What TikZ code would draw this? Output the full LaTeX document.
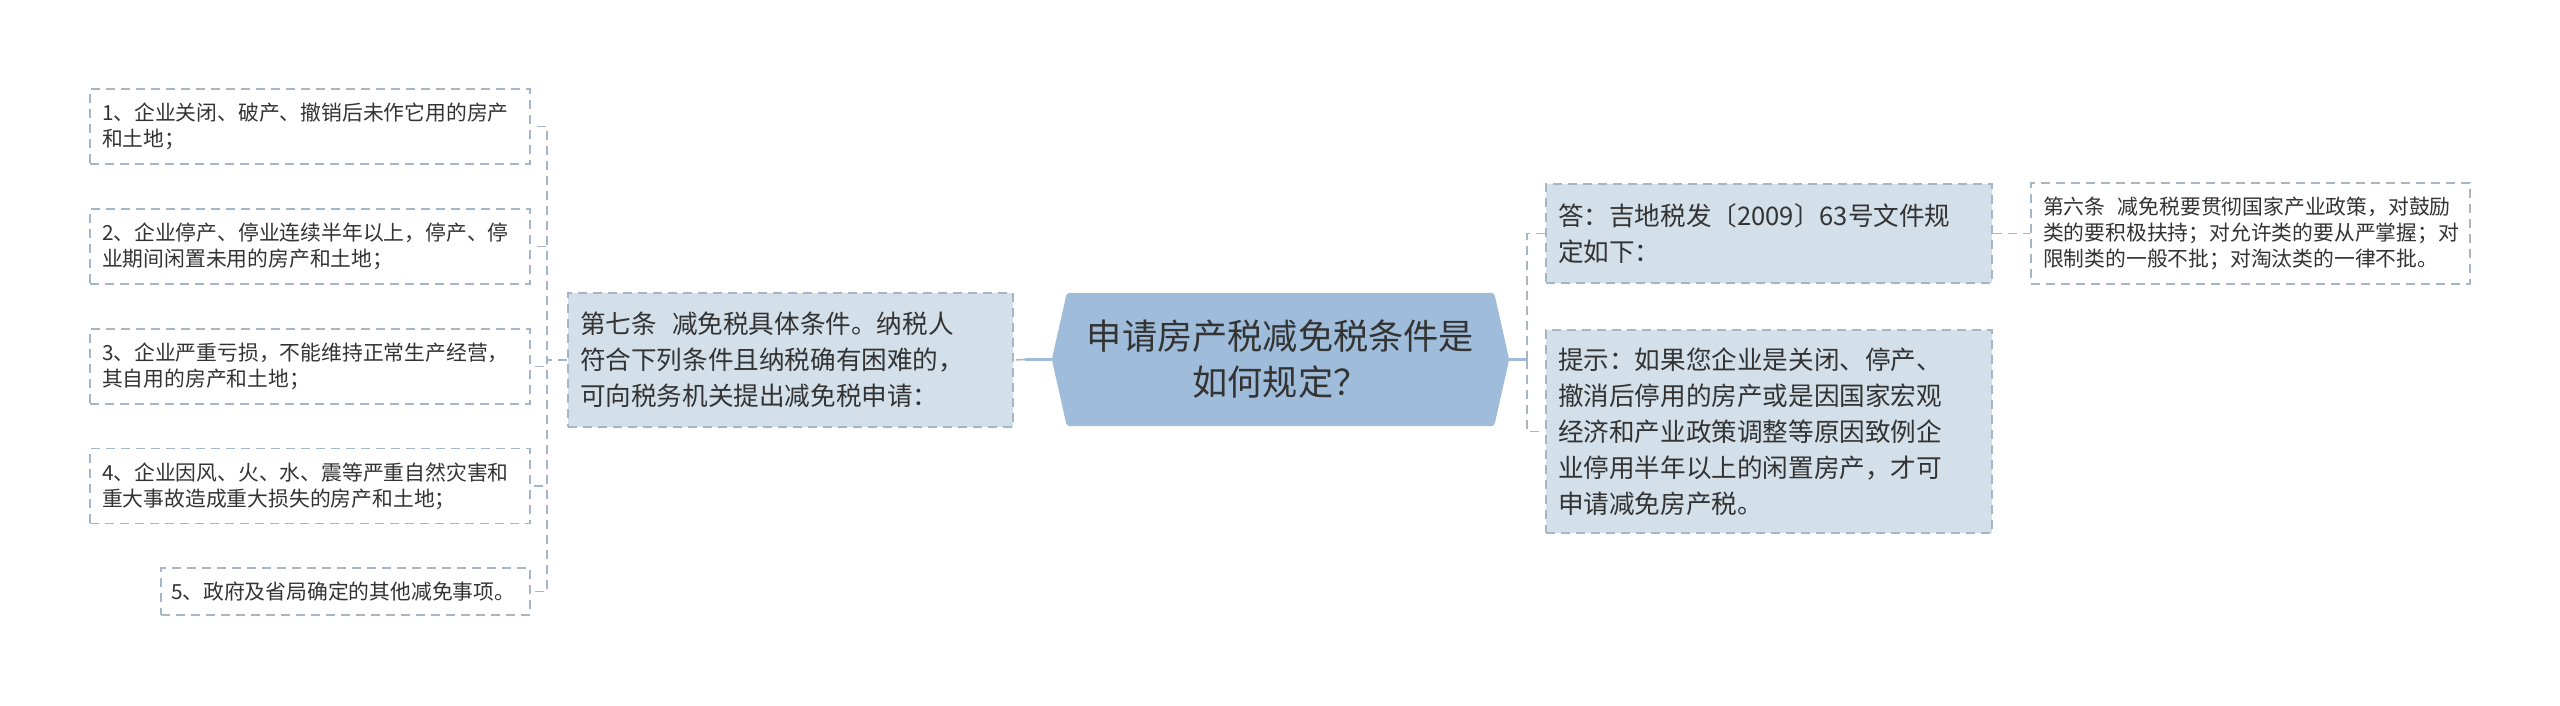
\documentclass[tikz,border=0pt]{standalone}
\usepackage{fontspec}
\setmainfont{Noto Sans CJK SC}
\usetikzlibrary{backgrounds}
\definecolor{rootfill}{HTML}{9FBDDA}
\definecolor{secfill}{HTML}{D3E0EA}
\definecolor{dashcol}{HTML}{A4B6C8}
\definecolor{linecol}{HTML}{9FBDDA}
\definecolor{txtcol}{HTML}{333333}
\tikzset{
  box/.style={draw=dashcol, line width=1.6pt, dash pattern=on 9pt off 6pt, rectangle,
    inner xsep=12pt, inner ysep=0pt, align=left, text=txtcol, anchor=center},
  leafbox/.style={box, fill=white, font=\fontsize{20.8}{26}\selectfont},
  secbox/.style={box, fill=secfill, font=\fontsize{25.6}{36}\selectfont},
  rootbox/.style={rectangle, inner sep=0pt, align=center, text=txtcol,
    font=\fontsize{35.2}{46}\selectfont},
  dashline/.style={draw=dashcol, line width=1.6pt, dash pattern=on 9pt off 6pt},
  rootline/.style={draw=linecol, line width=3pt},
}
\begin{document}
\begin{tikzpicture}[x=1pt,y=-1pt]
\useasboundingbox (0,0) rectangle (2560,706);

% left leaves
\node[leafbox, text width=416pt, minimum width=440pt, minimum height=75pt] (c1) at (310,126.5)
  {1、企业关闭、破产、撤销后未作它用的房产\\和土地；};
\node[leafbox, text width=416pt, minimum width=440pt, minimum height=75pt] (c2) at (310,246.5)
  {2、企业停产、停业连续半年以上，停产、停\\业期间闲置未用的房产和土地；};
\node[leafbox, text width=416pt, minimum width=440pt, minimum height=75pt] (c3) at (310,366.5)
  {3、企业严重亏损，不能维持正常生产经营，\\其自用的房产和土地；};
\node[leafbox, text width=416pt, minimum width=440pt, minimum height=75pt] (c4) at (310,486)
  {4、企业因风、火、水、震等严重自然灾害和\\重大事故造成重大损失的房产和土地；};
\node[leafbox, inner xsep=10pt, text width=349pt, minimum width=369pt, minimum height=47pt] (c5) at (345.5,591.5)
  {5、政府及省局确定的其他减免事项。};

% second level left
\node[secbox, text width=421pt, minimum width=445pt, minimum height=134pt] (seven) at (790.5,360)
  {第七条\hspace{0.6em}减免税具体条件。纳税人\\符合下列条件且纳税确有困难的，\\可向税务机关提出减免税申请：};

% root
\node[rootbox, minimum width=427pt, minimum height=133pt, text width=420pt] (root) at (1280.5,359.5)
  {申请房产税减免税条件是\\如何规定？};
\coordinate (rW) at ([xshift=-15pt]root.west);
\coordinate (rE) at ([xshift=15pt]root.east);
\begin{scope}[on background layer]
  \fill[rootfill, rounded corners=3pt] (rW) -- (root.north west) -- (root.north east) -- (rE)
    -- (root.south east) -- (root.south west) -- cycle;
\end{scope}

% right side
\node[secbox, text width=422pt, minimum width=446pt, minimum height=99pt] (ans) at (1769,233.5)
  {答：吉地税发〔2009〕63号文件规\\定如下：};
\node[secbox, text width=422pt, minimum width=446pt, minimum height=203pt] (tip) at (1769,431.5)
  {提示：如果您企业是关闭、停产、\\撤消后停用的房产或是因国家宏观\\经济和产业政策调整等原因致例企\\业停用半年以上的闲置房产，才可\\申请减免房产税。};
\node[leafbox, text width=415pt, minimum width=439pt, minimum height=101pt] (six) at (2250.5,233.5)
  {第六条\hspace{0.6em}减免税要贯彻国家产业政策，对鼓励\\类的要积极扶持；对允许类的要从严掌握；对\\限制类的一般不批；对淘汰类的一律不批。};

% connectors
\draw[rootline] (rW) -- ++(-27,0) coordinate (lj);
\draw[dashline] (lj) -- (seven.east);
\foreach \c in {c1,c2,c3,c4,c5}
  \draw[dashline] (seven.west) -- ++(-20,0) |- (\c.east);
\draw[rootline] (rE) -- ++(18,0) coordinate (rj);
\draw[dashline] (rj) |- (ans.west);
\draw[dashline] (rj) |- (tip.west);
\draw[dashline] (ans.east) -- (six.west);
\end{tikzpicture}
\end{document}
